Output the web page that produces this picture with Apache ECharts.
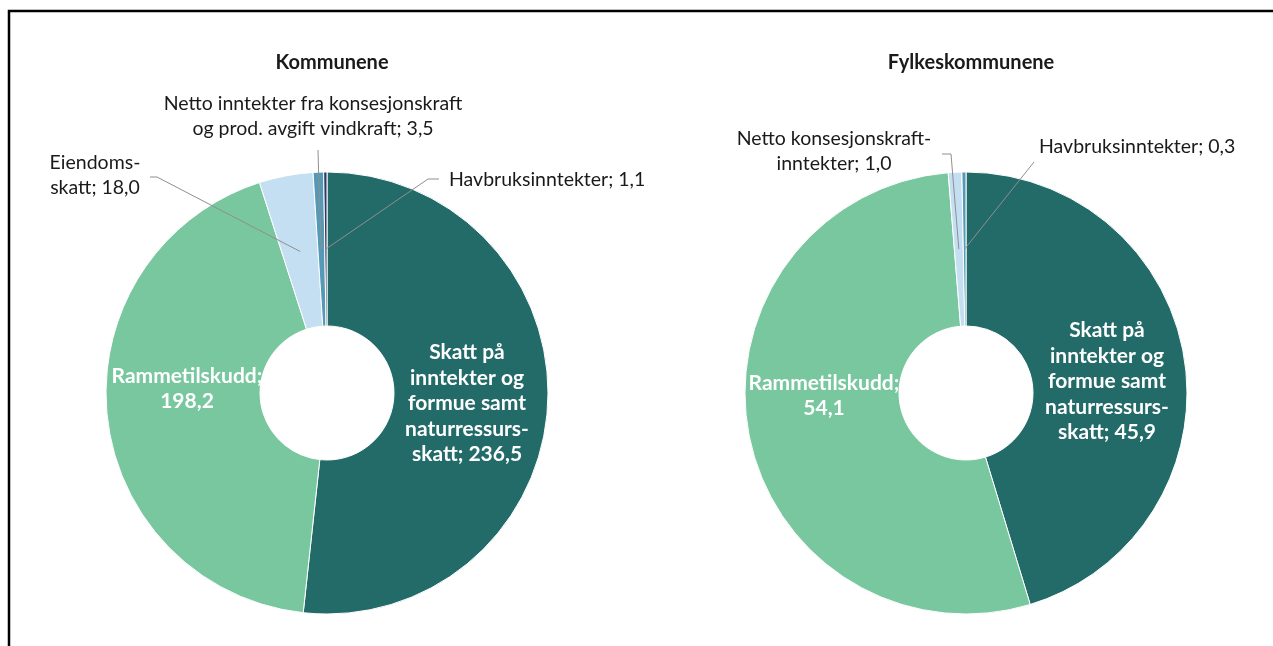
<!DOCTYPE html>
<html>
<head>
<meta charset="utf-8">
<script src="https://cdn.jsdelivr.net/npm/echarts@6/dist/echarts.min.js"></script>
<style>
html,body{margin:0;padding:0;background:#fff;}
#chart{width:1273px;height:646px;}
</style>
</head>
<body>
<div id="chart"></div>
<script>
// ---- Data ----
const titles = ['Kommunene', 'Fylkeskommunene'];

const categoriesKommune = ['Skatt på inntekter og formue samt naturressursskatt', 'Rammetilskudd', 'Eiendomsskatt', 'Netto inntekter fra konsesjonskraft og prod. avgift vindkraft', 'Havbruksinntekter'];
const valuesKommune = [236.5, 198.2, 18.0, 3.5, 1.1];
const labelTextKommune = ['Skatt på\ninntekter og\nformue samt\nnaturressurs-\nskatt; {v}', 'Rammetilskudd;\n{v}', 'Eiendoms-\nskatt; {v}', 'Netto inntekter fra konsesjonskraft\nog prod. avgift vindkraft; {v}', 'Havbruksinntekter; {v}'];

const categoriesFylke = ['Skatt på inntekter og formue samt naturressursskatt', 'Rammetilskudd', 'Netto konsesjonskraftinntekter', 'Havbruksinntekter'];
const valuesFylke = [45.9, 54.1, 1.0, 0.3];
const labelTextFylke = ['Skatt på\ninntekter og\nformue samt\nnaturressurs-\nskatt; {v}', 'Rammetilskudd;\n{v}', 'Netto konsesjonskraft-\ninntekter; {v}', 'Havbruksinntekter; {v}'];

// ---- Styles / layout ----
const colorsKommune = ['#236b69', '#78c79e', '#c4dff1', '#5499b5', '#2b3a67'];
const colorsFylke = ['#236b69', '#78c79e', '#c4dff1', '#5499b5'];
const insideKommune = [true, true, false, false, false];
const insideFylke = [true, true, false, false];

const FONT = 'Lato';
const centers = [[327, 393], [966, 393]];
const radii = [67, 221];
const lineRadius = 144;

// label anchors (layout only): x, y, align, elbow/end (label-side part of leader line)
const labelPosKommune = [
  {x: 467, y: 403.5, align: 'center'},
  {x: 187, y: 388.5, align: 'center'},
  {x: 95,  y: 175.5, align: 'center', end: [150, 177], elbow: [157, 177]},
  {x: 313, y: 116,   align: 'center', end: [318, 150], elbow: [318.5, 170]},
  {x: 449, y: 180,   align: 'left',   end: [439, 179], elbow: [428, 179]}
];
const labelPosFylke = [
  {x: 1107, y: 381.5, align: 'center'},
  {x: 824,  y: 395.5, align: 'center'},
  {x: 834,  y: 151,   align: 'center', end: [942, 154], elbow: [951, 154]},
  {x: 1039, y: 147,   align: 'left',   end: [1034, 162], elbow: [1030, 167]}
];

function fmt(v) { return v.toFixed(1).replace('.', ','); }

function midPoint(vals, idx, center) {
  const total = vals.reduce((a, b) => a + b, 0);
  let before = 0;
  for (let i = 0; i < idx; i++) before += vals[i];
  const frac = (before + vals[idx] / 2) / total;
  const ang = frac * 2 * Math.PI;
  return [center[0] + lineRadius * Math.sin(ang), center[1] - lineRadius * Math.cos(ang)];
}

function makeLayout(vals, pos, center) {
  return function (params) {
    const p = pos[params.dataIndex];
    const res = {x: p.x, y: p.y, align: p.align, verticalAlign: 'middle'};
    if (p.end) {
      res.labelLinePoints = [midPoint(vals, params.dataIndex, center), p.elbow, p.end];
    }
    return res;
  };
}

// Slice series (coloured sectors, no labels)
function makeSliceSeries(cats, vals, colors, center) {
  return {
    type: 'pie',
    center: center,
    radius: radii,
    startAngle: 90,
    clockwise: true,
    silent: true,
    z: 2,
    itemStyle: {borderColor: '#ffffff', borderWidth: 1},
    label: {show: false},
    labelLine: {show: false},
    data: vals.map((v, i) => ({name: cats[i], value: v, itemStyle: {color: colors[i]}}))
  };
}

// Label overlay series (same values, transparent sectors, labels + leader lines on top)
function makeLabelSeries(cats, vals, texts, inside, pos, center) {
  return {
    type: 'pie',
    center: center,
    radius: radii,
    startAngle: 90,
    clockwise: true,
    avoidLabelOverlap: false,
    silent: true,
    z: 5,
    itemStyle: {color: 'rgba(0,0,0,0)', borderWidth: 0},
    label: {
      show: true,
      position: 'outside',
      fontFamily: FONT,
      formatter: (p) => p.data.labelText.replace('{v}', fmt(p.value))
    },
    labelLine: {show: true, lineStyle: {color: '#8f8f8f', width: 1}},
    labelLayout: makeLayout(vals, pos, center),
    data: vals.map((v, i) => ({
      name: cats[i],
      value: v,
      labelText: texts[i],
      label: inside[i]
        ? {color: '#ffffff', fontWeight: 'bold', fontSize: 21, lineHeight: 25.5}
        : {color: '#1a1a1a', fontWeight: 'normal', fontSize: 19.5, lineHeight: 25},
      labelLine: {show: !inside[i]}
    }))
  };
}

const chart = echarts.init(document.getElementById('chart'), null, {renderer: 'canvas'});
chart.setOption({
  animation: false,
  backgroundColor: '#ffffff',
  title: titles.map((t, i) => ({
    text: t,
    left: centers[i][0],
    top: 48,
    textAlign: 'center',
    textStyle: {fontFamily: FONT, fontWeight: 'bold', fontSize: 20, color: '#1a1a1a'}
  })),
  graphic: [{
    type: 'rect',
    shape: {x: 9, y: 11, width: 1400, height: 1000},
    style: {fill: 'none', stroke: '#000000', lineWidth: 2.5},
    silent: true
  }],
  series: [
    makeSliceSeries(categoriesKommune, valuesKommune, colorsKommune, centers[0]),
    makeSliceSeries(categoriesFylke, valuesFylke, colorsFylke, centers[1]),
    makeLabelSeries(categoriesKommune, valuesKommune, labelTextKommune, insideKommune, labelPosKommune, centers[0]),
    makeLabelSeries(categoriesFylke, valuesFylke, labelTextFylke, insideFylke, labelPosFylke, centers[1])
  ]
});
</script>
</body>
</html>
